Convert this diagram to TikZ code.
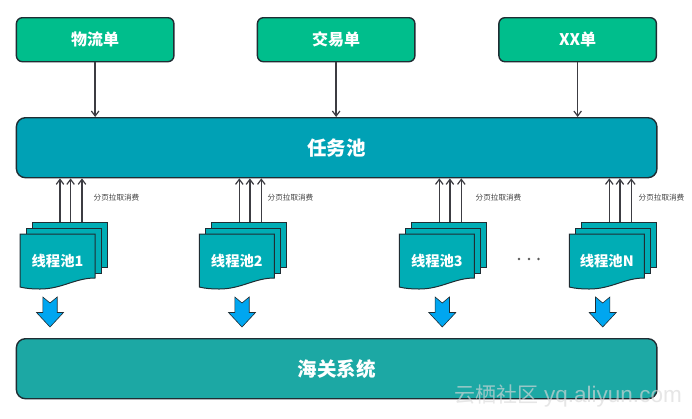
\documentclass[tikz,border=0pt]{standalone}
\usepackage{fontspec}
\setmainfont{Noto Sans CJK SC}
\newfontfamily\wmfont{Liberation Sans}
\usetikzlibrary{arrows.meta}
\definecolor{ln}{HTML}{1F2D33}
\definecolor{grn}{HTML}{00BE8C}
\definecolor{pool}{HTML}{00A1B5}
\definecolor{docc}{HTML}{00ADB5}
\definecolor{sys}{HTML}{1CA8A4}
\definecolor{blu}{HTML}{00A6F0}
\definecolor{arr}{HTML}{3C3C42}
\tikzset{
  box/.style={draw=ln,line width=1.4pt,rounded corners=6pt,anchor=north west,inner sep=0pt,text=white},
  order/.style={box,fill=grn,minimum width=157.5pt,minimum height=44pt},
  ordername/.style={text=white,inner sep=0pt,font=\fontsize{16}{16}\selectfont\bfseries},
  wide/.style={box,minimum width=640.5pt,minimum height=60pt,rounded corners=9pt,font=\fontsize{19.5}{20}\selectfont\bfseries},
  arrow/.style={draw=arr,line width=1.6pt,-{Straight Barb[length=5pt,width=7.5pt,line width=1.2pt]}},
  note/.style={font=\fontsize{7.6}{8}\selectfont,text=black!75,inner sep=0pt},
  sheet/.style={draw=ln,line width=1pt,fill=docc},
  docname/.style={text=white,inner sep=0pt,font=\fontsize{14.3}{15}\selectfont\bfseries},
  down/.style={draw=ln,line width=.6pt,fill=blu},
}
\newcommand{\sheetat}[2]{%
  \path[sheet] (#1,#2) -- (#1+75,#2) -- (#1+75,#2+44)
    .. controls (#1+55,#2+44) and (#1+42,#2+55) .. (#1+20,#2+55)
    .. controls (#1+12,#2+55) and (#1+6,#2+54.5) .. (#1,#2+53) -- cycle;}
\newcommand{\backsheet}[2]{%
  \path[sheet] (#1,#2) -- ++(75,0) -- ++(0,45) -- ++(-75,0) -- cycle;}
\newcommand{\blockdown}[2]{%
  \path[down] (#1-7.2,#2) -- (#1,#2+6) -- (#1+7.2,#2) -- (#1+7.2,#2+15.5) -- (#1+13.5,#2+15.5) -- (#1,#2+30) -- (#1-13.5,#2+15.5) -- (#1-7.2,#2+15.5) -- cycle;}
\begin{document}
\begin{tikzpicture}[x=1pt,y=-1pt]
\useasboundingbox[fill=white] (0,0) rectangle (692,418);
% top row
\node[order] (o1) at (15.7,17) {};
\node[order] (o2) at (256.7,17) {};
\node[order] (o3) at (498.2,17) {};
\node[ordername] at (o1) {物流单};
\node[ordername] at (o2) {交易单};
\node[ordername] at (o3) {XX单};
% bars
\node[wide,fill=pool] (pool) at (15.7,117) {任务池};
\node[wide,fill=sys] (sys) at (15.7,338) {海关系统};
% order arrows
\draw[arrow] (o1.south) -- (o1.south |- pool.north);
\draw[arrow] (o2.south) -- (o2.south |- pool.north);
\draw[arrow] (o3.south) -- (o3.south |- pool.north);
% thread pools
\foreach \x/\lab/\name in {20/1/a,199.3/2/b,399.3/3/c,569.3/N/d}{
  \backsheet{\x+12}{222}
  \backsheet{\x+6}{228}
  \sheetat{\x}{234}
  \node[docname] at (\x+37.5,261) {线程池\lab};
  \coordinate (\name1) at (\x+40,222);
  \coordinate (\name2) at (\x+50.6,222);
  \coordinate (\name3) at (\x+62,222);
  \foreach \i in {1,2,3}{\draw[arrow] (\name\i) -- (\name\i |- pool.south);}
}
% block arrows
\blockdown{50}{297}
\blockdown{242}{297}
\blockdown{442.3}{297}
\blockdown{602.7}{297}
% notes
\node[note] at (116.5,198) {分页拉取消费};
\node[note] at (290.5,198) {分页拉取消费};
\node[note] at (498.5,198) {分页拉取消费};
\node[note] at (661.5,198) {分页拉取消费};
% dots
\fill[black!65] (519,259) circle (1.3) (529,259) circle (1.3) (538.5,259) circle (1.3);
% watermark
\node[inner sep=0pt,anchor=west,text=gray!30,opacity=.65,font=\fontsize{21}{21}\selectfont] at (454,396) {云栖社区\hspace{6pt}{\wmfont\fontsize{22.5}{22.5}\selectfont yq.aliyun.com}};
\end{tikzpicture}
\end{document}
